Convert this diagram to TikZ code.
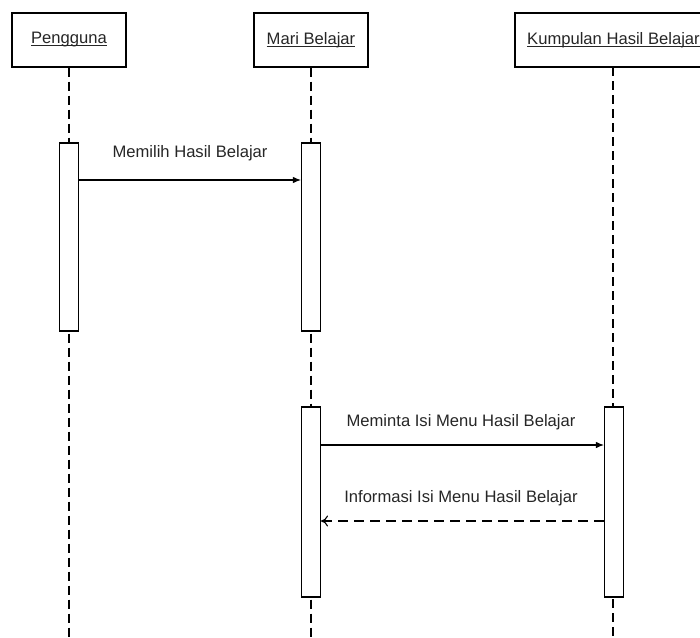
\documentclass[tikz,border=0pt]{standalone}
\usepackage{fontspec}
\setmainfont{Liberation Sans}
\usetikzlibrary{arrows.meta}
% underline drawn just below the baseline, through the descenders
\newcommand\objname[1]{\setbox0\hbox{#1}\rlap{\vrule width\wd0 height -1.4pt depth 2.5pt}\box0}
\begin{document}
\begin{tikzpicture}[x=1pt,y=-1pt,
  every node/.style={font=\fontsize{16.6}{19}\selectfont, text=black!85},
  headbox/.style={draw, line width=1.2pt, minimum width=114pt, minimum height=54pt, inner sep=0pt},
  actbar/.style={draw, fill=white, line width=1.1pt, minimum width=19pt, inner sep=0pt},
  lifeline/.style={line width=1.1pt, dash pattern=on 9pt off 5pt},
  msg/.style={line width=1.1pt, -{Latex[length=8pt,width=6.5pt]}},
  reply/.style={line width=1.1pt, dash pattern=on 10pt off 6pt, -{To[length=7pt,width=11pt]}},
  lbl/.style={inner sep=0pt}]
\useasboundingbox (0,0) rectangle (700,637);
\clip (0,0) rectangle (700,637);

% object headers
\node[headbox] (usr) at (69,40) {\objname{Pengguna}};
\node[headbox] (app) at (311,40) {\objname{Mari Belajar}};
\draw[line width=1.2pt] (515,13) rectangle (720,67);
\node[lbl, anchor=west] (coll) at (527,40) {\objname{Kumpulan Hasil Belajar}};

% lifelines down to the bottom edge
\coordinate (usrEnd) at (69,640);
\coordinate (appEnd) at (311,640);
\coordinate (collTop) at (613,67);
\coordinate (collEnd) at (613,640);
\draw[lifeline] (usr.south) -- (usrEnd);
\draw[lifeline] (app.south) -- (appEnd);
\draw[lifeline] (collTop) -- (collEnd);

% activation bars
\node[actbar, minimum height=188pt] (usrA) at (69,237) {};
\node[actbar, minimum height=188pt] (appA) at (311,237) {};
\node[actbar, minimum height=190pt] (appB) at (311,502) {};
\node[actbar, minimum height=190pt] (collA) at (614,502) {};

% messages
\draw[msg] (usrA.east |- 0,180) -- (appA.west |- 0,180);
\node[lbl] (m1) at (190,153) {Memilih Hasil Belajar};

\draw[msg] (appB.east |- 0,445) -- (collA.west |- 0,445);
\node[lbl] (m2) at (461,422) {Meminta Isi Menu Hasil Belajar};

\draw[reply] (collA.west |- 0,521) -- (appB.east |- 0,521);
\node[lbl] (m3) at (461,498) {Informasi Isi Menu Hasil Belajar};
\end{tikzpicture}
\end{document}
